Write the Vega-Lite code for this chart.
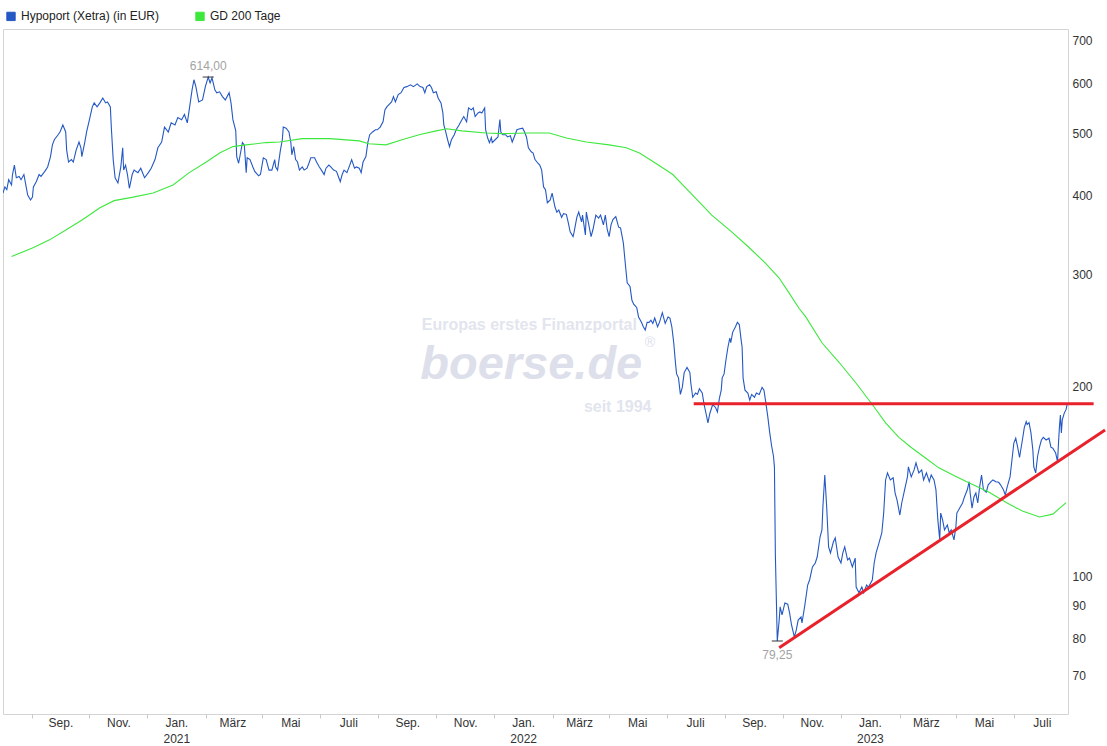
{
  "$schema": "https://vega.github.io/schema/vega-lite/v6.json",
  "width": 1065,
  "height": 685,
  "autosize": {"type": "none"},
  "padding": {"left": 3, "top": 29, "right": 39, "bottom": 32},
  "background": "white",
  "config": {
    "font": "Liberation Sans",
    "view": {"stroke": "#d4d4d4", "strokeWidth": 1}
  },
  "datasets": {
    "lines": [
      {"d":"2020-07-02","s":"P","v":403},{"d":"2020-07-04","s":"P","v":412},{"d":"2020-07-06","s":"P","v":408},{"d":"2020-07-08","s":"P","v":423},{"d":"2020-07-11","s":"P","v":415},{"d":"2020-07-12","s":"P","v":431},{"d":"2020-07-14","s":"P","v":446},{"d":"2020-07-16","s":"P","v":426},{"d":"2020-07-19","s":"P","v":428},{"d":"2020-07-21","s":"P","v":423},{"d":"2020-07-24","s":"P","v":431},{"d":"2020-07-26","s":"P","v":415},{"d":"2020-07-28","s":"P","v":400},{"d":"2020-07-31","s":"P","v":393},
      {"d":"2020-08-02","s":"P","v":397},{"d":"2020-08-03","s":"P","v":412},{"d":"2020-08-06","s":"P","v":420},{"d":"2020-08-09","s":"P","v":431},{"d":"2020-08-11","s":"P","v":428},{"d":"2020-08-15","s":"P","v":436},{"d":"2020-08-18","s":"P","v":443},{"d":"2020-08-21","s":"P","v":460},{"d":"2020-08-23","s":"P","v":480},{"d":"2020-08-25","s":"P","v":489},{"d":"2020-08-29","s":"P","v":498},{"d":"2020-08-31","s":"P","v":503},
      {"d":"2020-09-03","s":"P","v":516},{"d":"2020-09-06","s":"P","v":503},{"d":"2020-09-07","s":"P","v":471},{"d":"2020-09-09","s":"P","v":451},{"d":"2020-09-12","s":"P","v":455},{"d":"2020-09-14","s":"P","v":451},{"d":"2020-09-17","s":"P","v":471},{"d":"2020-09-20","s":"P","v":485},{"d":"2020-09-22","s":"P","v":475},{"d":"2020-09-23","s":"P","v":460},{"d":"2020-09-26","s":"P","v":484},{"d":"2020-09-28","s":"P","v":503},
      {"d":"2020-10-01","s":"P","v":526},{"d":"2020-10-04","s":"P","v":551},{"d":"2020-10-06","s":"P","v":559},{"d":"2020-10-09","s":"P","v":551},{"d":"2020-10-12","s":"P","v":559},{"d":"2020-10-15","s":"P","v":569},{"d":"2020-10-18","s":"P","v":559},{"d":"2020-10-20","s":"P","v":561},{"d":"2020-10-23","s":"P","v":551},{"d":"2020-10-24","s":"P","v":512},{"d":"2020-10-26","s":"P","v":455},{"d":"2020-10-28","s":"P","v":426},{"d":"2020-10-31","s":"P","v":418},
      {"d":"2020-11-03","s":"P","v":443},{"d":"2020-11-05","s":"P","v":475},{"d":"2020-11-06","s":"P","v":438},{"d":"2020-11-08","s":"P","v":446},{"d":"2020-11-10","s":"P","v":431},{"d":"2020-11-12","s":"P","v":410},{"d":"2020-11-15","s":"P","v":431},{"d":"2020-11-17","s":"P","v":438},{"d":"2020-11-21","s":"P","v":434},{"d":"2020-11-24","s":"P","v":441},{"d":"2020-11-28","s":"P","v":426},
      {"d":"2020-12-02","s":"P","v":434},{"d":"2020-12-05","s":"P","v":441},{"d":"2020-12-09","s":"P","v":455},{"d":"2020-12-12","s":"P","v":475},{"d":"2020-12-16","s":"P","v":485},{"d":"2020-12-19","s":"P","v":512},{"d":"2020-12-23","s":"P","v":503},{"d":"2020-12-26","s":"P","v":520},{"d":"2020-12-30","s":"P","v":516},
      {"d":"2021-01-02","s":"P","v":530},{"d":"2021-01-06","s":"P","v":526},{"d":"2021-01-09","s":"P","v":536},{"d":"2021-01-12","s":"P","v":520},{"d":"2021-01-14","s":"P","v":545},{"d":"2021-01-17","s":"P","v":586},{"d":"2021-01-19","s":"P","v":608},{"d":"2021-01-21","s":"P","v":593},{"d":"2021-01-24","s":"P","v":561},{"d":"2021-01-28","s":"P","v":565},{"d":"2021-01-31","s":"P","v":593},
      {"d":"2021-02-03","s":"P","v":614},{"d":"2021-02-05","s":"P","v":601},{"d":"2021-02-07","s":"P","v":612},{"d":"2021-02-10","s":"P","v":586},{"d":"2021-02-12","s":"P","v":580},{"d":"2021-02-15","s":"P","v":582},{"d":"2021-02-18","s":"P","v":572},{"d":"2021-02-21","s":"P","v":565},{"d":"2021-02-25","s":"P","v":580},{"d":"2021-02-27","s":"P","v":559},
      {"d":"2021-03-01","s":"P","v":526},{"d":"2021-03-04","s":"P","v":505},{"d":"2021-03-05","s":"P","v":460},{"d":"2021-03-07","s":"P","v":449},{"d":"2021-03-09","s":"P","v":466},{"d":"2021-03-11","s":"P","v":484},{"d":"2021-03-13","s":"P","v":480},{"d":"2021-03-15","s":"P","v":434},{"d":"2021-03-16","s":"P","v":458},{"d":"2021-03-19","s":"P","v":455},{"d":"2021-03-22","s":"P","v":443},{"d":"2021-03-24","s":"P","v":436},{"d":"2021-03-28","s":"P","v":429},{"d":"2021-03-30","s":"P","v":431},
      {"d":"2021-04-02","s":"P","v":458},{"d":"2021-04-05","s":"P","v":455},{"d":"2021-04-08","s":"P","v":438},{"d":"2021-04-11","s":"P","v":438},{"d":"2021-04-14","s":"P","v":455},{"d":"2021-04-15","s":"P","v":443},{"d":"2021-04-17","s":"P","v":438},{"d":"2021-04-20","s":"P","v":471},{"d":"2021-04-22","s":"P","v":489},{"d":"2021-04-23","s":"P","v":512},{"d":"2021-04-26","s":"P","v":510},{"d":"2021-04-29","s":"P","v":503},
      {"d":"2021-05-01","s":"P","v":484},{"d":"2021-05-02","s":"P","v":463},{"d":"2021-05-04","s":"P","v":477},{"d":"2021-05-06","s":"P","v":455},{"d":"2021-05-08","s":"P","v":451},{"d":"2021-05-10","s":"P","v":438},{"d":"2021-05-13","s":"P","v":443},{"d":"2021-05-15","s":"P","v":438},{"d":"2021-05-18","s":"P","v":441},{"d":"2021-05-20","s":"P","v":449},{"d":"2021-05-22","s":"P","v":458},{"d":"2021-05-26","s":"P","v":458},{"d":"2021-05-28","s":"P","v":451},{"d":"2021-05-31","s":"P","v":443},
      {"d":"2021-06-03","s":"P","v":436},{"d":"2021-06-05","s":"P","v":431},{"d":"2021-06-07","s":"P","v":441},{"d":"2021-06-10","s":"P","v":446},{"d":"2021-06-12","s":"P","v":443},{"d":"2021-06-15","s":"P","v":438},{"d":"2021-06-18","s":"P","v":436},{"d":"2021-06-20","s":"P","v":428},{"d":"2021-06-22","s":"P","v":420},{"d":"2021-06-24","s":"P","v":431},{"d":"2021-06-26","s":"P","v":438},{"d":"2021-06-29","s":"P","v":434},
      {"d":"2021-07-02","s":"P","v":446},{"d":"2021-07-04","s":"P","v":455},{"d":"2021-07-07","s":"P","v":441},{"d":"2021-07-09","s":"P","v":443},{"d":"2021-07-12","s":"P","v":441},{"d":"2021-07-14","s":"P","v":434},{"d":"2021-07-16","s":"P","v":451},{"d":"2021-07-19","s":"P","v":460},{"d":"2021-07-21","s":"P","v":484},{"d":"2021-07-23","s":"P","v":498},{"d":"2021-07-26","s":"P","v":503},{"d":"2021-07-29","s":"P","v":507},{"d":"2021-07-31","s":"P","v":507},
      {"d":"2021-08-03","s":"P","v":512},{"d":"2021-08-06","s":"P","v":522},{"d":"2021-08-08","s":"P","v":545},{"d":"2021-08-10","s":"P","v":551},{"d":"2021-08-12","s":"P","v":555},{"d":"2021-08-15","s":"P","v":561},{"d":"2021-08-17","s":"P","v":572},{"d":"2021-08-19","s":"P","v":561},{"d":"2021-08-22","s":"P","v":576},{"d":"2021-08-25","s":"P","v":580},{"d":"2021-08-28","s":"P","v":591},{"d":"2021-08-31","s":"P","v":593},
      {"d":"2021-09-04","s":"P","v":597},{"d":"2021-09-07","s":"P","v":593},{"d":"2021-09-11","s":"P","v":599},{"d":"2021-09-14","s":"P","v":593},{"d":"2021-09-17","s":"P","v":591},{"d":"2021-09-19","s":"P","v":580},{"d":"2021-09-21","s":"P","v":593},{"d":"2021-09-24","s":"P","v":597},{"d":"2021-09-26","s":"P","v":591},{"d":"2021-09-28","s":"P","v":580},
      {"d":"2021-10-01","s":"P","v":582},{"d":"2021-10-03","s":"P","v":569},{"d":"2021-10-06","s":"P","v":559},{"d":"2021-10-08","s":"P","v":539},{"d":"2021-10-09","s":"P","v":516},{"d":"2021-10-11","s":"P","v":503},{"d":"2021-10-13","s":"P","v":489},{"d":"2021-10-15","s":"P","v":477},{"d":"2021-10-17","s":"P","v":489},{"d":"2021-10-20","s":"P","v":498},{"d":"2021-10-22","s":"P","v":507},{"d":"2021-10-25","s":"P","v":516},{"d":"2021-10-28","s":"P","v":526},{"d":"2021-10-30","s":"P","v":532},
      {"d":"2021-11-02","s":"P","v":522},{"d":"2021-11-04","s":"P","v":549},{"d":"2021-11-07","s":"P","v":545},{"d":"2021-11-09","s":"P","v":549},{"d":"2021-11-11","s":"P","v":532},{"d":"2021-11-14","s":"P","v":539},{"d":"2021-11-16","s":"P","v":541},{"d":"2021-11-18","s":"P","v":539},{"d":"2021-11-21","s":"P","v":549},{"d":"2021-11-22","s":"P","v":507},{"d":"2021-11-24","s":"P","v":493},{"d":"2021-11-26","s":"P","v":484},{"d":"2021-11-28","s":"P","v":493},{"d":"2021-11-29","s":"P","v":484},
      {"d":"2021-12-02","s":"P","v":489},{"d":"2021-12-05","s":"P","v":494},{"d":"2021-12-07","s":"P","v":526},{"d":"2021-12-08","s":"P","v":503},{"d":"2021-12-10","s":"P","v":498},{"d":"2021-12-13","s":"P","v":498},{"d":"2021-12-15","s":"P","v":494},{"d":"2021-12-18","s":"P","v":496},{"d":"2021-12-20","s":"P","v":485},{"d":"2021-12-23","s":"P","v":498},{"d":"2021-12-25","s":"P","v":507},{"d":"2021-12-28","s":"P","v":509},{"d":"2021-12-31","s":"P","v":510},
      {"d":"2022-01-02","s":"P","v":503},{"d":"2022-01-04","s":"P","v":494},{"d":"2022-01-06","s":"P","v":475},{"d":"2022-01-09","s":"P","v":468},{"d":"2022-01-11","s":"P","v":466},{"d":"2022-01-13","s":"P","v":455},{"d":"2022-01-16","s":"P","v":449},{"d":"2022-01-18","s":"P","v":446},{"d":"2022-01-20","s":"P","v":438},{"d":"2022-01-22","s":"P","v":412},{"d":"2022-01-24","s":"P","v":408},{"d":"2022-01-26","s":"P","v":389},{"d":"2022-01-29","s":"P","v":393},{"d":"2022-01-31","s":"P","v":403},
      {"d":"2022-02-03","s":"P","v":383},{"d":"2022-02-05","s":"P","v":376},{"d":"2022-02-07","s":"P","v":379},{"d":"2022-02-10","s":"P","v":369},{"d":"2022-02-12","s":"P","v":374},{"d":"2022-02-15","s":"P","v":373},{"d":"2022-02-17","s":"P","v":362},{"d":"2022-02-19","s":"P","v":350},{"d":"2022-02-22","s":"P","v":344},{"d":"2022-02-23","s":"P","v":349},{"d":"2022-02-26","s":"P","v":369},{"d":"2022-02-28","s":"P","v":376},
      {"d":"2022-03-03","s":"P","v":363},{"d":"2022-03-04","s":"P","v":372},{"d":"2022-03-07","s":"P","v":346},{"d":"2022-03-08","s":"P","v":376},{"d":"2022-03-10","s":"P","v":363},{"d":"2022-03-13","s":"P","v":344},{"d":"2022-03-15","s":"P","v":353},{"d":"2022-03-18","s":"P","v":372},{"d":"2022-03-21","s":"P","v":368},{"d":"2022-03-23","s":"P","v":372},{"d":"2022-03-26","s":"P","v":359},{"d":"2022-03-28","s":"P","v":372},{"d":"2022-03-30","s":"P","v":353},
      {"d":"2022-04-01","s":"P","v":344},{"d":"2022-04-03","s":"P","v":359},{"d":"2022-04-05","s":"P","v":366},{"d":"2022-04-08","s":"P","v":370},{"d":"2022-04-11","s":"P","v":356},{"d":"2022-04-13","s":"P","v":355},{"d":"2022-04-16","s":"P","v":336},{"d":"2022-04-18","s":"P","v":312},{"d":"2022-04-20","s":"P","v":291},{"d":"2022-04-23","s":"P","v":287},{"d":"2022-04-25","s":"P","v":273},{"d":"2022-04-27","s":"P","v":269},{"d":"2022-04-30","s":"P","v":266},
      {"d":"2022-05-02","s":"P","v":257},{"d":"2022-05-05","s":"P","v":252},{"d":"2022-05-07","s":"P","v":248},{"d":"2022-05-09","s":"P","v":245},{"d":"2022-05-11","s":"P","v":252},{"d":"2022-05-13","s":"P","v":252},{"d":"2022-05-15","s":"P","v":254},{"d":"2022-05-17","s":"P","v":251},{"d":"2022-05-19","s":"P","v":256},{"d":"2022-05-22","s":"P","v":248},{"d":"2022-05-24","s":"P","v":252},{"d":"2022-05-27","s":"P","v":261},{"d":"2022-05-30","s":"P","v":251},
      {"d":"2022-06-02","s":"P","v":257},{"d":"2022-06-04","s":"P","v":256},{"d":"2022-06-06","s":"P","v":248},{"d":"2022-06-08","s":"P","v":234},{"d":"2022-06-10","s":"P","v":216},{"d":"2022-06-11","s":"P","v":209},{"d":"2022-06-13","s":"P","v":206},{"d":"2022-06-15","s":"P","v":194},{"d":"2022-06-17","s":"P","v":199},{"d":"2022-06-19","s":"P","v":210},{"d":"2022-06-22","s":"P","v":214},{"d":"2022-06-25","s":"P","v":210},{"d":"2022-06-26","s":"P","v":202},{"d":"2022-06-28","s":"P","v":192},
      {"d":"2022-07-01","s":"P","v":195},{"d":"2022-07-03","s":"P","v":194},{"d":"2022-07-05","s":"P","v":198},{"d":"2022-07-08","s":"P","v":195},{"d":"2022-07-10","s":"P","v":187},{"d":"2022-07-12","s":"P","v":181},{"d":"2022-07-14","s":"P","v":175},{"d":"2022-07-16","s":"P","v":181},{"d":"2022-07-19","s":"P","v":187},{"d":"2022-07-22","s":"P","v":185},{"d":"2022-07-24","s":"P","v":182},{"d":"2022-07-26","s":"P","v":191},{"d":"2022-07-28","s":"P","v":197},{"d":"2022-07-29","s":"P","v":206},{"d":"2022-07-31","s":"P","v":209},
      {"d":"2022-08-02","s":"P","v":220},{"d":"2022-08-04","s":"P","v":230},{"d":"2022-08-06","s":"P","v":238},{"d":"2022-08-07","s":"P","v":234},{"d":"2022-08-09","s":"P","v":243},{"d":"2022-08-12","s":"P","v":248},{"d":"2022-08-14","s":"P","v":252},{"d":"2022-08-16","s":"P","v":250},{"d":"2022-08-18","s":"P","v":236},{"d":"2022-08-19","s":"P","v":230},{"d":"2022-08-20","s":"P","v":206},{"d":"2022-08-22","s":"P","v":197},{"d":"2022-08-25","s":"P","v":195},{"d":"2022-08-27","s":"P","v":190},{"d":"2022-08-29","s":"P","v":194},
      {"d":"2022-09-01","s":"P","v":192},{"d":"2022-09-03","s":"P","v":195},{"d":"2022-09-06","s":"P","v":194},{"d":"2022-09-09","s":"P","v":199},{"d":"2022-09-11","s":"P","v":197},{"d":"2022-09-13","s":"P","v":188},{"d":"2022-09-15","s":"P","v":179},{"d":"2022-09-17","s":"P","v":169},{"d":"2022-09-19","s":"P","v":161},{"d":"2022-09-21","s":"P","v":155},{"d":"2022-09-22","s":"P","v":149},{"d":"2022-09-23","s":"P","v":108},{"d":"2022-09-25","s":"P","v":79.25},{"d":"2022-09-27","s":"P","v":85.5},{"d":"2022-09-28","s":"P","v":89.7},{"d":"2022-09-30","s":"P","v":87.1},
      {"d":"2022-10-03","s":"P","v":91.0},{"d":"2022-10-06","s":"P","v":90.6},{"d":"2022-10-08","s":"P","v":87.7},{"d":"2022-10-10","s":"P","v":84.0},{"d":"2022-10-13","s":"P","v":80.4},{"d":"2022-10-15","s":"P","v":82.5},{"d":"2022-10-17","s":"P","v":85.5},{"d":"2022-10-20","s":"P","v":86.5},{"d":"2022-10-21","s":"P","v":84.6},{"d":"2022-10-24","s":"P","v":90.3},{"d":"2022-10-27","s":"P","v":97.1},{"d":"2022-10-29","s":"P","v":98.9},
      {"d":"2022-11-01","s":"P","v":103.7},{"d":"2022-11-04","s":"P","v":105.2},{"d":"2022-11-06","s":"P","v":107.5},{"d":"2022-11-09","s":"P","v":115.6},{"d":"2022-11-11","s":"P","v":118.6},{"d":"2022-11-12","s":"P","v":128.9},{"d":"2022-11-14","s":"P","v":144.8},{"d":"2022-11-16","s":"P","v":128.9},{"d":"2022-11-18","s":"P","v":111.5},{"d":"2022-11-20","s":"P","v":109.1},{"d":"2022-11-23","s":"P","v":113.5},{"d":"2022-11-25","s":"P","v":115.2},{"d":"2022-11-28","s":"P","v":107.5},
      {"d":"2022-12-01","s":"P","v":105.2},{"d":"2022-12-03","s":"P","v":109.1},{"d":"2022-12-05","s":"P","v":111.5},{"d":"2022-12-08","s":"P","v":106.4},{"d":"2022-12-10","s":"P","v":107.1},{"d":"2022-12-13","s":"P","v":103.7},{"d":"2022-12-16","s":"P","v":107.1},{"d":"2022-12-17","s":"P","v":96.4},{"d":"2022-12-20","s":"P","v":94.4},{"d":"2022-12-23","s":"P","v":96.4},{"d":"2022-12-25","s":"P","v":94.4},{"d":"2022-12-28","s":"P","v":97.1},{"d":"2022-12-30","s":"P","v":96.4},
      {"d":"2023-01-03","s":"P","v":98.9},{"d":"2023-01-05","s":"P","v":105.2},{"d":"2023-01-07","s":"P","v":109.1},{"d":"2023-01-10","s":"P","v":113.1},{"d":"2023-01-13","s":"P","v":117.3},{"d":"2023-01-15","s":"P","v":126.1},{"d":"2023-01-17","s":"P","v":142.2},{"d":"2023-01-19","s":"P","v":145.9},{"d":"2023-01-22","s":"P","v":142.2},{"d":"2023-01-25","s":"P","v":143.3},{"d":"2023-01-27","s":"P","v":135.6},{"d":"2023-01-29","s":"P","v":132.3},
      {"d":"2023-02-01","s":"P","v":125.2},{"d":"2023-02-03","s":"P","v":130.8},{"d":"2023-02-06","s":"P","v":137.2},{"d":"2023-02-09","s":"P","v":143.8},{"d":"2023-02-10","s":"P","v":149.1},{"d":"2023-02-13","s":"P","v":143.8},{"d":"2023-02-16","s":"P","v":147.5},{"d":"2023-02-18","s":"P","v":151.3},{"d":"2023-02-21","s":"P","v":145.9},{"d":"2023-02-24","s":"P","v":147.5},{"d":"2023-02-26","s":"P","v":142.2},
      {"d":"2023-03-01","s":"P","v":145.9},{"d":"2023-03-04","s":"P","v":141.3},{"d":"2023-03-06","s":"P","v":144.8},{"d":"2023-03-09","s":"P","v":142.2},{"d":"2023-03-11","s":"P","v":137.2},{"d":"2023-03-13","s":"P","v":123.0},{"d":"2023-03-15","s":"P","v":114.4},{"d":"2023-03-16","s":"P","v":126.1},{"d":"2023-03-18","s":"P","v":123.0},{"d":"2023-03-20","s":"P","v":118.6},{"d":"2023-03-23","s":"P","v":120.8},{"d":"2023-03-25","s":"P","v":117.3},{"d":"2023-03-27","s":"P","v":118.6},{"d":"2023-03-30","s":"P","v":114.4},
      {"d":"2023-04-01","s":"P","v":120.0},{"d":"2023-04-02","s":"P","v":126.1},{"d":"2023-04-05","s":"P","v":128.4},{"d":"2023-04-08","s":"P","v":130.8},{"d":"2023-04-10","s":"P","v":133.7},{"d":"2023-04-13","s":"P","v":137.2},{"d":"2023-04-15","s":"P","v":141.3},{"d":"2023-04-16","s":"P","v":135.6},{"d":"2023-04-18","s":"P","v":128.4},{"d":"2023-04-20","s":"P","v":133.7},{"d":"2023-04-22","s":"P","v":135.6},{"d":"2023-04-24","s":"P","v":130.8},{"d":"2023-04-26","s":"P","v":138.7},{"d":"2023-04-28","s":"P","v":144.8},{"d":"2023-04-30","s":"P","v":137.2},
      {"d":"2023-05-03","s":"P","v":136.0},{"d":"2023-05-05","s":"P","v":139.7},{"d":"2023-05-08","s":"P","v":141.3},{"d":"2023-05-10","s":"P","v":142.2},{"d":"2023-05-13","s":"P","v":141.3},{"d":"2023-05-16","s":"P","v":141.0},{"d":"2023-05-18","s":"P","v":139.7},{"d":"2023-05-21","s":"P","v":137.2},{"d":"2023-05-23","s":"P","v":134.7},{"d":"2023-05-25","s":"P","v":138.7},{"d":"2023-05-28","s":"P","v":143.8},{"d":"2023-05-30","s":"P","v":152.9},
      {"d":"2023-06-01","s":"P","v":162.6},{"d":"2023-06-03","s":"P","v":165.5},{"d":"2023-06-05","s":"P","v":160.2},{"d":"2023-06-07","s":"P","v":154.3},{"d":"2023-06-08","s":"P","v":157.7},{"d":"2023-06-10","s":"P","v":164.4},{"d":"2023-06-12","s":"P","v":172.0},{"d":"2023-06-14","s":"P","v":175.8},{"d":"2023-06-15","s":"P","v":173.9},{"d":"2023-06-17","s":"P","v":175.1},{"d":"2023-06-19","s":"P","v":168.7},{"d":"2023-06-21","s":"P","v":158.6},{"d":"2023-06-22","s":"P","v":149.1},{"d":"2023-06-24","s":"P","v":145.9},{"d":"2023-06-26","s":"P","v":155.0},{"d":"2023-06-28","s":"P","v":160.2},{"d":"2023-06-30","s":"P","v":164.4},
      {"d":"2023-07-02","s":"P","v":166.0},{"d":"2023-07-05","s":"P","v":164.4},{"d":"2023-07-08","s":"P","v":165.5},{"d":"2023-07-10","s":"P","v":160.2},{"d":"2023-07-12","s":"P","v":159.6},{"d":"2023-07-15","s":"P","v":156.8},{"d":"2023-07-17","s":"P","v":152.0},{"d":"2023-07-18","s":"P","v":162.6},{"d":"2023-07-19","s":"P","v":172.6},{"d":"2023-07-20","s":"P","v":180.0},{"d":"2023-07-21","s":"P","v":168.7},{"d":"2023-07-22","s":"P","v":176.9},{"d":"2023-07-24","s":"P","v":181.1},{"d":"2023-07-26","s":"P","v":183.7},{"d":"2023-07-27","s":"P","v":187},
      {"d":"2020-07-11","s":"G","v":320},{"d":"2020-08-02","s":"G","v":330},{"d":"2020-08-20","s":"G","v":340},{"d":"2020-09-07","s":"G","v":353},{"d":"2020-09-24","s":"G","v":366},{"d":"2020-10-12","s":"G","v":382},{"d":"2020-10-27","s":"G","v":392},{"d":"2020-11-16","s":"G","v":397},{"d":"2020-12-07","s":"G","v":403},{"d":"2020-12-28","s":"G","v":415},
      {"d":"2021-01-14","s":"G","v":434},{"d":"2021-02-01","s":"G","v":451},{"d":"2021-02-15","s":"G","v":466},{"d":"2021-03-01","s":"G","v":477},{"d":"2021-03-15","s":"G","v":480},{"d":"2021-04-05","s":"G","v":484},{"d":"2021-04-19","s":"G","v":485},{"d":"2021-05-13","s":"G","v":491},{"d":"2021-06-11","s":"G","v":491},{"d":"2021-07-12","s":"G","v":487},{"d":"2021-07-22","s":"G","v":482},{"d":"2021-08-09","s":"G","v":480},{"d":"2021-08-26","s":"G","v":489},{"d":"2021-09-13","s":"G","v":498},{"d":"2021-10-01","s":"G","v":505},{"d":"2021-10-12","s":"G","v":509},{"d":"2021-10-28","s":"G","v":505},{"d":"2021-11-22","s":"G","v":501},{"d":"2021-12-10","s":"G","v":500},
      {"d":"2022-01-07","s":"G","v":501},{"d":"2022-01-28","s":"G","v":501},{"d":"2022-02-15","s":"G","v":492},{"d":"2022-03-08","s":"G","v":485},{"d":"2022-04-01","s":"G","v":480},{"d":"2022-04-19","s":"G","v":475},{"d":"2022-05-03","s":"G","v":466},{"d":"2022-05-20","s":"G","v":449},{"d":"2022-06-07","s":"G","v":431},{"d":"2022-06-21","s":"G","v":410},{"d":"2022-07-05","s":"G","v":390},{"d":"2022-07-18","s":"G","v":372},{"d":"2022-08-08","s":"G","v":350},{"d":"2022-08-26","s":"G","v":331},{"d":"2022-09-13","s":"G","v":312},{"d":"2022-09-27","s":"G","v":296},{"d":"2022-10-07","s":"G","v":281},{"d":"2022-10-18","s":"G","v":265},{"d":"2022-10-25","s":"G","v":257},{"d":"2022-11-11","s":"G","v":234},{"d":"2022-11-29","s":"G","v":218},{"d":"2022-12-17","s":"G","v":202},
      {"d":"2023-01-03","s":"G","v":187},{"d":"2023-01-17","s":"G","v":175},{"d":"2023-01-31","s":"G","v":166},{"d":"2023-02-13","s":"G","v":160},{"d":"2023-02-28","s":"G","v":154},{"d":"2023-03-14","s":"G","v":148.6},{"d":"2023-04-01","s":"G","v":144},{"d":"2023-04-18","s":"G","v":140},{"d":"2023-05-06","s":"G","v":136},{"d":"2023-05-24","s":"G","v":131},{"d":"2023-06-10","s":"G","v":127},{"d":"2023-06-28","s":"G","v":124.3},{"d":"2023-07-12","s":"G","v":125.6},{"d":"2023-07-26","s":"G","v":131}
    ],
    "trend": [
      {"d":"2022-06-29","k":"h","v":187.5},{"d":"2023-08-24","k":"h","v":187.5},
      {"d":"2022-09-27","k":"d","v":77.3},{"d":"2023-09-05","k":"d","v":170.5}
    ],
    "extrema": [
      {"d":"2021-02-03","v":614,"t":"614,00"},
      {"d":"2022-09-25","v":79.25,"t":"79,25"}
    ],
    "months": [
      {"d":"2020-09-01","t":"Sep."},{"d":"2020-11-01","t":"Nov."},{"d":"2021-01-01","t":"Jan."},{"d":"2021-03-01","t":"März"},{"d":"2021-05-01","t":"Mai"},{"d":"2021-07-01","t":"Juli"},{"d":"2021-09-01","t":"Sep."},{"d":"2021-11-01","t":"Nov."},
      {"d":"2022-01-01","t":"Jan."},{"d":"2022-03-01","t":"März"},{"d":"2022-05-01","t":"Mai"},{"d":"2022-07-01","t":"Juli"},{"d":"2022-09-01","t":"Sep."},{"d":"2022-11-01","t":"Nov."},
      {"d":"2023-01-01","t":"Jan."},{"d":"2023-03-01","t":"März"},{"d":"2023-05-01","t":"Mai"},{"d":"2023-07-01","t":"Juli"}
    ],
    "years": [
      {"d":"2021-01-01","t":"2021"},{"d":"2022-01-01","t":"2022"},{"d":"2023-01-01","t":"2023"}
    ],
    "watermark": [
      {"d":"2022-01-07","v":250,"t":"Europas erstes Finanzportal","k":"a"},
      {"d":"2022-01-09","v":216,"t":"boerse.de","k":"b"},
      {"d":"2022-05-14","v":234,"t":"®","k":"c"},
      {"d":"2022-04-10","v":185.5,"t":"seit 1994","k":"a"}
    ]
  },
  "layer": [
    {
      "data": {"name": "watermark"},
      "transform": [{"filter": "datum.k == 'a'"}],
      "mark": {"type": "text", "fontSize": 16, "fontWeight": "bold", "color": "#e2e5ee", "align": "center", "baseline": "middle"},
      "encoding": {
        "x": {"field": "d", "type": "temporal"},
        "y": {"field": "v", "type": "quantitative"},
        "text": {"field": "t"}
      }
    },
    {
      "data": {"name": "watermark"},
      "transform": [{"filter": "datum.k == 'b'"}],
      "mark": {"type": "text", "font": "Liberation Sans", "fontSize": 47, "fontWeight": "bold", "fontStyle": "italic", "color": "#dde0eb", "align": "center", "baseline": "middle"},
      "encoding": {
        "x": {"field": "d", "type": "temporal"},
        "y": {"field": "v", "type": "quantitative"},
        "text": {"field": "t"}
      }
    },
    {
      "data": {"name": "watermark"},
      "transform": [{"filter": "datum.k == 'c'"}],
      "mark": {"type": "text", "fontSize": 14, "color": "#dde0eb", "align": "center", "baseline": "middle"},
      "encoding": {
        "x": {"field": "d", "type": "temporal"},
        "y": {"field": "v", "type": "quantitative"},
        "text": {"field": "t"}
      }
    },
    {
      "data": {"name": "lines"},
      "mark": {"type": "line", "strokeWidth": 1.1, "clip": true},
      "encoding": {
        "x": {
          "field": "d", "type": "temporal",
          "scale": {"type": "utc", "domain": [{"year": 2020, "month": 7, "date": 2, "utc": true}, {"year": 2023, "month": 7, "date": 28, "utc": true}]},
          "axis": {
            "title": null,
            "values": [
              {"year":2020,"month":8,"date":1,"utc":true},{"year":2020,"month":10,"date":1,"utc":true},{"year":2020,"month":12,"date":1,"utc":true},
              {"year":2021,"month":2,"date":1,"utc":true},{"year":2021,"month":4,"date":1,"utc":true},{"year":2021,"month":6,"date":1,"utc":true},{"year":2021,"month":8,"date":1,"utc":true},{"year":2021,"month":10,"date":1,"utc":true},{"year":2021,"month":12,"date":1,"utc":true},
              {"year":2022,"month":2,"date":1,"utc":true},{"year":2022,"month":4,"date":1,"utc":true},{"year":2022,"month":6,"date":1,"utc":true},{"year":2022,"month":8,"date":1,"utc":true},{"year":2022,"month":10,"date":1,"utc":true},{"year":2022,"month":12,"date":1,"utc":true},
              {"year":2023,"month":2,"date":1,"utc":true},{"year":2023,"month":4,"date":1,"utc":true},{"year":2023,"month":6,"date":1,"utc":true}
            ],
            "labels": false,
            "tickSize": 4,
            "tickColor": "#c8c8c8",
            "domain": false,
            "grid": false
          }
        },
        "y": {
          "field": "v", "type": "quantitative",
          "scale": {"type": "log", "domain": [60.8, 731], "nice": false},
          "axis": {
            "orient": "right", "title": null,
            "values": [70, 80, 90, 100, 200, 300, 400, 500, 600, 700],
            "format": "d", "ticks": false, "tickSize": 0, "domain": false, "grid": false,
            "labelFontSize": 12, "labelColor": "#333333", "labelPadding": 4, "labelAlign": "left"
          }
        },
        "color": {
          "field": "s", "type": "nominal",
          "scale": {"domain": ["P", "G"], "range": ["#2458c4", "#3de83d"]},
          "legend": {
            "orient": "none", "legendX": 2, "legendY": -19, "direction": "horizontal",
            "title": null, "symbolType": "square", "symbolSize": 70, "symbolStrokeWidth": 1,
            "labelFontSize": 12, "labelColor": "#222222", "columnPadding": 33, "labelOffset": 4,
            "labelExpr": "datum.label == 'P' ? 'Hypoport (Xetra) (in EUR)' : 'GD 200 Tage'",
            "encode": {"symbols": {"update": {"fill": {"scale": "color", "field": "value"}, "fillOpacity": {"value": 1}, "stroke": {"value": "#333333"}, "strokeWidth": {"value": 1}}}}
          }
        }
      }
    },
    {
      "data": {"name": "months"},
      "mark": {"type": "text", "fontSize": 12, "color": "#333333", "align": "center", "baseline": "top", "dy": 4, "clip": false},
      "encoding": {
        "x": {"field": "d", "type": "temporal"},
        "y": {"datum": 60.8, "type": "quantitative"},
        "text": {"field": "t"}
      }
    },
    {
      "data": {"name": "years"},
      "mark": {"type": "text", "fontSize": 12, "color": "#333333", "align": "center", "baseline": "top", "dy": 20, "clip": false},
      "encoding": {
        "x": {"field": "d", "type": "temporal"},
        "y": {"datum": 60.8, "type": "quantitative"},
        "text": {"field": "t"}
      }
    },
    {
      "data": {"name": "trend"},
      "mark": {"type": "line", "color": "#e8212b", "strokeWidth": 3, "clip": false},
      "encoding": {
        "x": {"field": "d", "type": "temporal"},
        "y": {"field": "v", "type": "quantitative"},
        "detail": {"field": "k"}
      }
    },
    {
      "data": {"name": "extrema"},
      "mark": {"type": "tick", "orient": "horizontal", "color": "#222222", "size": 11, "thickness": 1.3},
      "encoding": {
        "x": {"field": "d", "type": "temporal"},
        "y": {"field": "v", "type": "quantitative"}
      }
    },
    {
      "data": {"name": "extrema"},
      "transform": [{"filter": "datum.v > 300"}],
      "mark": {"type": "text", "fontSize": 12, "color": "#a3a3a3", "align": "center", "baseline": "middle", "dy": -11},
      "encoding": {
        "x": {"field": "d", "type": "temporal"},
        "y": {"field": "v", "type": "quantitative"},
        "text": {"field": "t"}
      }
    },
    {
      "data": {"name": "extrema"},
      "transform": [{"filter": "datum.v < 300"}],
      "mark": {"type": "text", "fontSize": 12, "color": "#a3a3a3", "align": "center", "baseline": "middle", "dy": 14},
      "encoding": {
        "x": {"field": "d", "type": "temporal"},
        "y": {"field": "v", "type": "quantitative"},
        "text": {"field": "t"}
      }
    }
  ]
}
